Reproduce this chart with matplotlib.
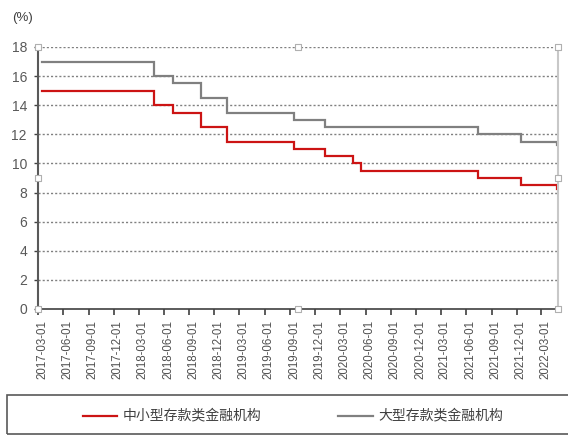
import matplotlib
matplotlib.use("Agg")
import matplotlib.pyplot as plt
import matplotlib.dates as mdates
import matplotlib.transforms as mtransforms
from datetime import datetime
from matplotlib.patches import Rectangle

# Reserve requirement ratio (%) step changes
change_dates = ["2017-03-15", "2018-04-25", "2018-07-05", "2018-10-15", "2019-01-15",
                "2019-09-16", "2020-01-06", "2020-04-15", "2020-05-15",
                "2021-07-15", "2021-12-15", "2022-04-25"]
small_medium = [15.0, 14.0, 13.5, 12.5, 11.5, 11.0, 10.5, 10.0, 9.5, 9.0, 8.5, 8.25]
large = [17.0, 16.0, 15.5, 14.5, 13.5, 13.0, 12.5, 12.5, 12.5, 12.0, 11.5, 11.25]

series_names = ["中小型存款类金融机构", "大型存款类金融机构"]
tick_labels = ["2017-03-01", "2017-06-01", "2017-09-01", "2017-12-01", "2018-03-01",
               "2018-06-01", "2018-09-01", "2018-12-01", "2019-03-01", "2019-06-01",
               "2019-09-01", "2019-12-01", "2020-03-01", "2020-06-01", "2020-09-01",
               "2020-12-01", "2021-03-01", "2021-06-01", "2021-09-01", "2021-12-01",
               "2022-03-01"]
y_ticks = [0, 2, 4, 6, 8, 10, 12, 14, 16, 18]

plt.rcParams['font.family'] = ['Liberation Sans', 'Noto Sans CJK SC', 'DejaVu Sans']

xs = [datetime.strptime(d, "%Y-%m-%d") for d in change_dates]

fig = plt.figure(figsize=(5.68, 4.37), dpi=100)
ax = fig.add_axes([38/568, 1-309/437, 520/568, 262/437])

red = "#CC1414"
gray = "#808080"
ax.plot(xs, large, drawstyle="steps-post", color=gray, lw=1.6, solid_joinstyle="miter")
ax.plot(xs, small_medium, drawstyle="steps-post", color=red, lw=1.6, solid_joinstyle="miter")

x0 = mdates.date2num(datetime(2017, 3, 1))
x1 = mdates.date2num(datetime(2022, 4, 30))
ax.set_xlim(x0, x1)
ax.set_ylim(0, 18)

ax.set_yticks(y_ticks)
ax.set_yticklabels([str(v) for v in y_ticks], fontsize=10, color="#595959")
for v in y_ticks[1:]:
    ax.axhline(v, color="#808080", lw=1.0, ls=(0, (1.5, 1.5)), zorder=0)

tick_pos = [mdates.date2num(datetime.strptime(t, "%Y-%m-%d")) for t in tick_labels]
ax.set_xticks(tick_pos)
ax.set_xticklabels(tick_labels, rotation=90, fontsize=8.3, color="#505050")
ax.tick_params(axis="x", direction="out", length=4, width=1.2, color="#404040", pad=4)
ax.tick_params(axis="y", direction="out", length=3, width=1.0, color="#404040", pad=5)
shift = mtransforms.ScaledTranslation(4/100, 0, fig.dpi_scale_trans)
for lbl in ax.get_xticklabels():
    lbl.set_horizontalalignment("center")
    lbl.set_transform(lbl.get_transform() + shift)

ax.spines["left"].set_color("#595959")
ax.spines["left"].set_linewidth(1.5)
ax.spines["bottom"].set_color("#404040")
ax.spines["bottom"].set_linewidth(1.2)
ax.spines["right"].set_color("#C8C8C8")
ax.spines["right"].set_linewidth(1.5)
ax.spines["top"].set_visible(False)

# selection handles around the plot area
hx = [0, 0.5, 1, 0, 1, 0, 0.5, 1]
hy = [1, 1, 1, 0.5, 0.5, 0, 0, 0]
ax.scatter(hx, hy, transform=ax.transAxes, marker="s", s=14, facecolor="white",
           edgecolor="#B0B0B0", linewidth=0.8, zorder=5, clip_on=False)

fig.text(12/568, 1-18/437, "(%)", fontsize=9.5, color="#404040", va="center", ha="left")

# legend frame
fig.patches.append(Rectangle((7/568, 1-434/437), 570/568, 39/437, transform=fig.transFigure,
                             fill=False, edgecolor="#595959", lw=1.2))
ly = 1 - 415.5/437
fig.lines.append(plt.Line2D([83/568, 117/568], [ly, ly], transform=fig.transFigure, color=red, lw=1.6))
fig.text(123/568, ly, series_names[0], fontsize=10, color="#404040", va="center", ha="left",
         family=["Noto Sans CJK SC", "DejaVu Sans"])
fig.lines.append(plt.Line2D([338/568, 373/568], [ly, ly], transform=fig.transFigure, color=gray, lw=1.6))
fig.text(378/568, ly, series_names[1], fontsize=10, color="#404040", va="center", ha="left",
         family=["Noto Sans CJK SC", "DejaVu Sans"])

fig.savefig("out.png", dpi=100)
